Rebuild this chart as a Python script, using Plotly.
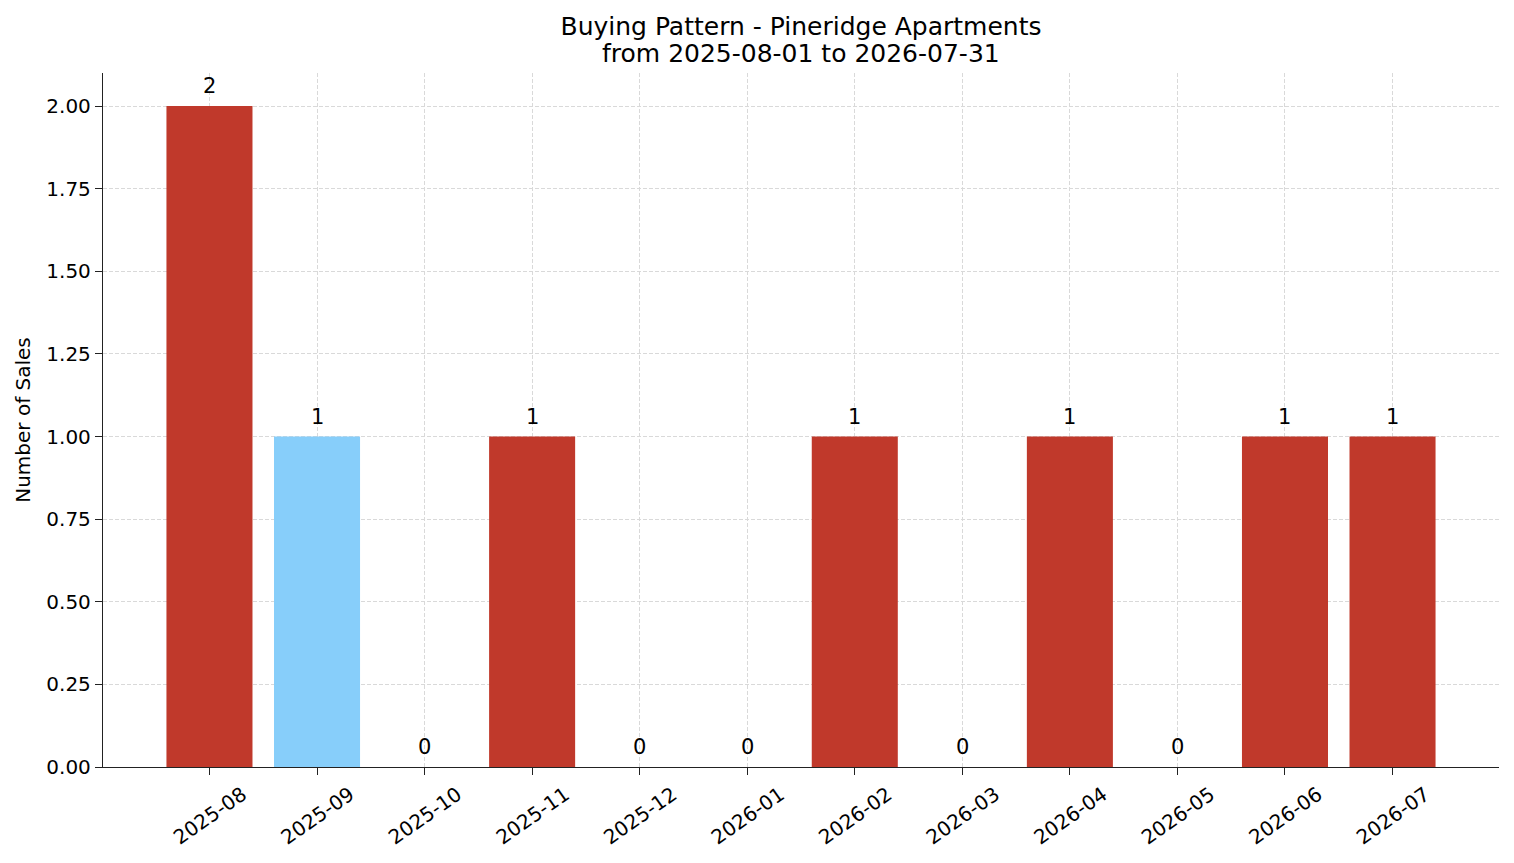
import plotly.graph_objects as go

months = ["2025-08", "2025-09", "2025-10", "2025-11", "2025-12", "2026-01",
          "2026-02", "2026-03", "2026-04", "2026-05", "2026-06", "2026-07"]
sales = [2, 1, 0, 1, 0, 0, 1, 0, 1, 0, 1, 1]
bar_colors = ["#c0392b", "#87cefa", "#c0392b", "#c0392b", "#c0392b", "#c0392b",
              "#c0392b", "#c0392b", "#c0392b", "#c0392b", "#c0392b", "#c0392b"]

font = "DejaVu Sans"
xpos = list(range(len(months)))

fig = go.Figure()
fig.add_trace(go.Bar(
    x=xpos, y=sales,
    width=0.8,
    marker=dict(color=bar_colors, line=dict(width=0)),
    hoverinfo="x+y",
))

# value labels above bars
for i, v in zip(xpos, sales):
    fig.add_annotation(x=i, y=v, text=str(v), showarrow=False,
                       yanchor="bottom", yshift=6,
                       font=dict(family=font, size=21, color="#000000"))

# second title line, placed by hand to get matplotlib-like line spacing
fig.add_annotation(x=0.5, y=1, xref="paper", yref="paper", text="from 2025-08-01 to 2026-07-31",
                   showarrow=False, xanchor="center", yanchor="middle", yshift=20,
                   font=dict(family=font, size=25, color="#000000"))

# page body adds an 8px offset, so the figure is sized to compensate
fig.update_layout(
    width=1506, height=855,
    margin=dict(l=95, r=15, t=65, b=96),
    paper_bgcolor="white", plot_bgcolor="white",
    font=dict(family=font, size=20, color="#000000"),
    showlegend=False,
    title=dict(
        text="Buying Pattern - Pineridge Apartments",
        x=0.5, xref="paper", xanchor="center", y=0.979, yanchor="middle",
        font=dict(family=font, size=25),
    ),
)

fig.update_xaxes(
    range=[-0.99, 11.99],
    tickmode="array", tickvals=xpos, ticktext=months,
    tickangle=-35, ticklabelshift=33,
    ticks="outside", ticklen=7, tickwidth=1.3, tickcolor="#222222",
    showline=True, linecolor="#222222", linewidth=1.3,
    showgrid=True, gridcolor="#d9d9d9", griddash="4px,2px", gridwidth=0.8,
    zeroline=False, layer="above traces",
    tickfont=dict(family=font, size=20),
)
fig.update_yaxes(
    range=[0, 2.1],
    tick0=0, dtick=0.25, tickformat=".2f",
    ticks="outside", ticklen=7, tickwidth=1.3, tickcolor="#222222",
    showline=True, linecolor="#222222", linewidth=1.3,
    showgrid=True, gridcolor="#d9d9d9", griddash="4px,2px", gridwidth=0.8,
    zeroline=False, layer="above traces",
    title=dict(text="Number of Sales", font=dict(family=font, size=20), standoff=10),
    tickfont=dict(family=font, size=20),
)

fig.write_html("out.html")
